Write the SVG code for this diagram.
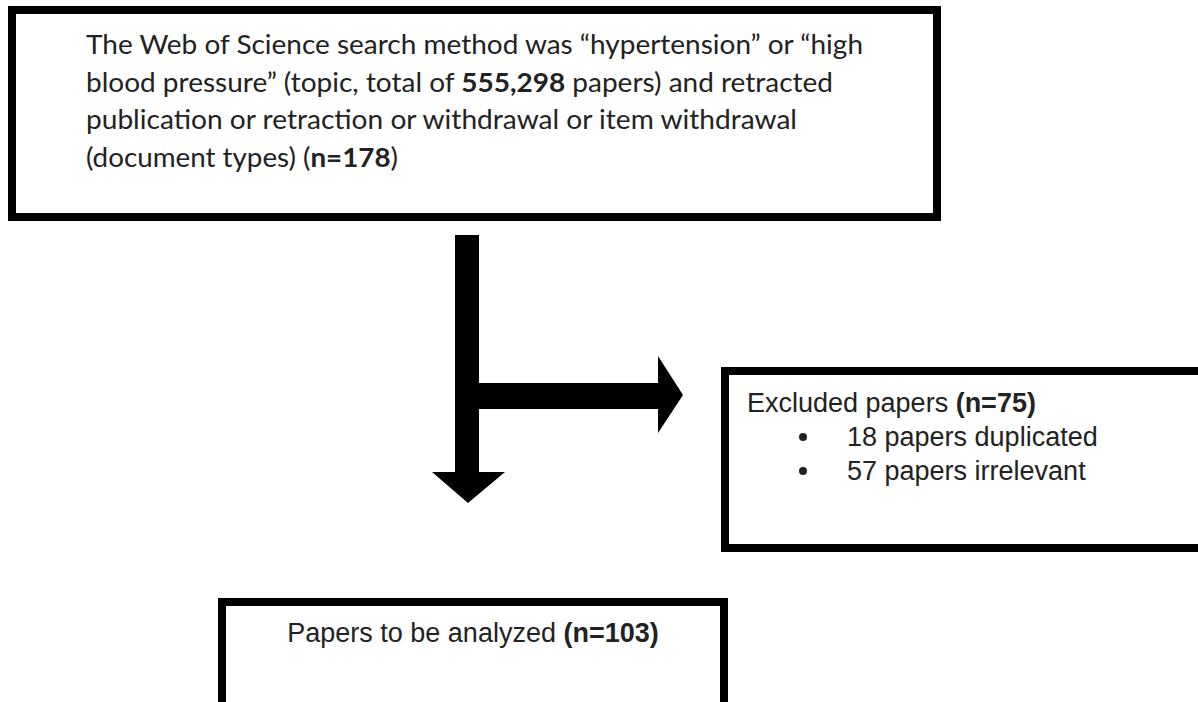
<svg xmlns="http://www.w3.org/2000/svg" width="1198" height="702" viewBox="0 0 1198 702">
<style>
.box{fill:#ffffff;stroke:#000000;stroke-width:8}
.cal{font-family:Lato,"Open Sans","Liberation Sans",sans-serif;font-size:26.67px;fill:#222222}
.ari{font-family:"Liberation Sans",Arial,sans-serif;font-size:27px;fill:#222222}
.b{font-weight:bold}
.arrow{fill:#000000}
</style>
<rect width="1198" height="702" fill="#ffffff"/>
<g id="search">
<rect class="box" x="12" y="10" width="925" height="207"/>
<text class="cal" x="86" y="54" textLength="777" lengthAdjust="spacingAndGlyphs">The Web of Science search method was “hypertension” or “high</text>
<text class="cal" x="86" y="91.5" textLength="747" lengthAdjust="spacingAndGlyphs">blood pressure” (topic, total of <tspan class="b">555,298</tspan> papers) and retracted</text>
<text class="cal" x="86" y="129" textLength="711" lengthAdjust="spacingAndGlyphs">publication or retraction or withdrawal or item withdrawal</text>
<text class="cal" x="86" y="166.5" textLength="312" lengthAdjust="spacingAndGlyphs">(document types) (<tspan class="b">n=178</tspan>)</text>
</g>
<g id="excluded">
<rect class="box" x="725" y="371" width="490" height="177"/>
<text class="ari" x="747" y="412">Excluded papers <tspan class="b">(n=75)</tspan></text>
<circle cx="803" cy="437" r="4" fill="#222222"/>
<text class="ari" x="847" y="446">18 papers duplicated</text>
<circle cx="803" cy="471" r="4" fill="#222222"/>
<text class="ari" x="847" y="480">57 papers irrelevant</text>
</g>
<g id="analyzed">
<rect class="box" x="222" y="602" width="502" height="200"/>
<text class="ari" x="473" y="642" text-anchor="middle">Papers to be analyzed <tspan class="b">(n=103)</tspan></text>
</g>
<g id="connectors">
<polygon class="arrow" points="455,235 479,235 479,472 505,472 468,503 432,472 455,472"/>
<polygon class="arrow" points="479,383 658,383 658,356 683,395 658,433 658,409 479,409"/>
</g>
</svg>
